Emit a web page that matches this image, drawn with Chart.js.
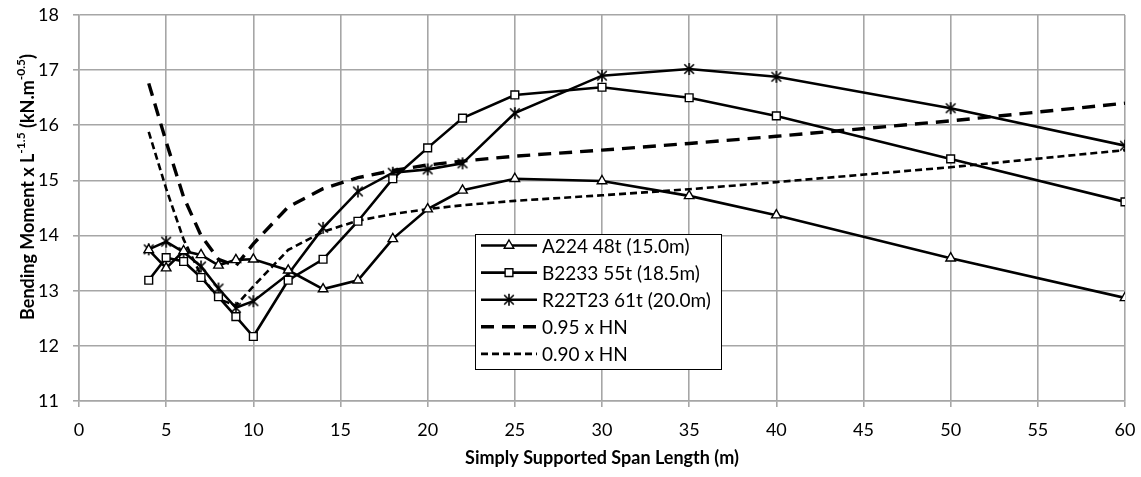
<!DOCTYPE html>
<html>
<head>
<meta charset="utf-8">
<script src="https://cdn.jsdelivr.net/npm/chart.js@4.4.1/dist/chart.umd.min.js"></script>
<style>
  html, body { margin: 0; padding: 0; background: #fff; }
  #wrap { width: 1141px; height: 477px; }
</style>
</head>
<body>
<div id="wrap"><canvas id="bmChart"></canvas></div>
<script>
// span lengths (m)
const spans = [4, 5, 6, 7, 8, 9, 10, 12, 14, 16, 18, 20, 22, 25, 30, 35, 40, 50, 60];

// bending moment x L^-1.5
const a224   = [13.74, 13.41, 13.72, 13.65, 13.46, 13.56, 13.57, 13.37, 13.03, 13.19, 13.94, 14.48, 14.82, 15.03, 14.99, 14.72, 14.37, 13.59, 12.87];
const b2233  = [13.19, 13.60, 13.53, 13.24, 12.89, 12.53, 12.17, 13.19, 13.57, 14.26, 15.03, 15.59, 16.13, 16.55, 16.69, 16.50, 16.17, 15.39, 14.61];
const r22t23 = [13.75, 13.89, 13.70, 13.44, 13.04, 12.69, 12.81, 13.30, 14.14, 14.80, 15.14, 15.20, 15.31, 16.22, 16.90, 17.02, 16.88, 16.31, 15.63];
const hn95   = [16.76, 15.70, 14.70, 14.00, 13.57, 13.45, 13.85, 14.52, 14.85, 15.05, 15.18, 15.28, 15.35, 15.44, 15.55, 15.67, 15.80, 16.08, 16.40];
const hn90   = [15.88, 14.85, 13.93, 13.28, 12.85, 12.73, 13.08, 13.74, 14.07, 14.27, 14.39, 14.48, 14.55, 14.63, 14.73, 14.84, 14.97, 15.24, 15.55];

const seriesNames = ["A224 48t (15.0m)", "B2233 55t (18.5m)", "R22T23 61t (20.0m)", "0.95 x HN", "0.90 x HN"];

const xTitle = "Simply Supported Span Length (m)";
const yTitleParts = [
  { t: "Bending Moment x L", sup: false },
  { t: "-1.5", sup: true },
  { t: " (kN.m", sup: false },
  { t: "-0.5", sup: true },
  { t: ")", sup: false }
];

const FONT = "Lato, 'Open Sans', sans-serif";

// excel style star marker: X plus vertical bar
function makeStar(size) {
  let c = document.createElement("canvas");
  c.width = size; c.height = size;
  let g = c.getContext("2d");
  let m = size / 2, r = size / 2 - 1;
  g.strokeStyle = "#000";
  g.lineWidth = 1.6;
  g.beginPath();
  g.moveTo(m - r * 0.8, m - r * 0.8); g.lineTo(m + r * 0.8, m + r * 0.8);
  g.moveTo(m + r * 0.8, m - r * 0.8); g.lineTo(m - r * 0.8, m + r * 0.8);
  g.moveTo(m, m - r); g.lineTo(m, m + r);
  g.stroke();
  return c;
}
const starMarker = makeStar(14);

function toPoints(ys) {
  let pts = [];
  for (let i = 0; i < spans.length; i++) {
    pts.push({ x: spans[i], y: ys[i] });
  }
  return pts;
}

function lineSet(label, ys, extra) {
  return Object.assign({
    label: label,
    data: toPoints(ys),
    borderColor: "#000",
    backgroundColor: "#fff",
    borderWidth: 2.6,
    pointRadius: 0,
    pointBorderColor: "#000",
    pointBackgroundColor: "#fff",
    pointBorderWidth: 1.4,
    tension: 0
  }, extra);
}

const datasets = [
  lineSet(seriesNames[0], a224,   { pointStyle: "triangle", pointRadius: 5.5 }),
  lineSet(seriesNames[1], b2233,  { pointStyle: "rect", pointRadius: 5.5 }),
  lineSet(seriesNames[2], r22t23, { pointStyle: starMarker, pointRadius: 6 }),
  lineSet(seriesNames[3], hn95,   { borderDash: [13, 8], borderWidth: 3.4, borderCapStyle: "butt" }),
  lineSet(seriesNames[4], hn90,   { borderDash: [7, 4], borderWidth: 2.6, borderCapStyle: "butt" })
];

// legend box drawn inside the plot
const boxLegend = {
  id: "boxLegend",
  afterDraw(chart) {
    const ctx = chart.ctx;
    const ca = chart.chartArea;
    const bx = ca.left + 396, by = ca.top + 219, bw = 246, bh = 135;
    ctx.save();
    ctx.fillStyle = "#fff";
    ctx.fillRect(bx, by, bw, bh);
    ctx.strokeStyle = "#000";
    ctx.lineWidth = 1;
    ctx.strokeRect(bx + 0.5, by + 0.5, bw, bh);
    ctx.font = "19px " + FONT;
    ctx.textBaseline = "middle";
    chart.data.datasets.forEach((ds, i) => {
      const cy = by + 11.5 + i * 27.1;
      const x0 = bx + 6, x1 = bx + 62;
      ctx.strokeStyle = "#000";
      ctx.lineWidth = ds.borderWidth;
      ctx.setLineDash(ds.borderDash || []);
      ctx.lineCap = "butt";
      ctx.beginPath();
      ctx.moveTo(x0, cy);
      ctx.lineTo(x1, cy);
      ctx.stroke();
      ctx.setLineDash([]);
      if (ds.pointRadius > 0) {
        ctx.fillStyle = "#fff";
        ctx.strokeStyle = "#000";
        ctx.lineWidth = ds.pointBorderWidth;
        Chart.helpers.drawPoint(ctx, {
          pointStyle: ds.pointStyle, radius: ds.pointRadius, rotation: 0, borderWidth: ds.pointBorderWidth
        }, (x0 + x1) / 2, cy);
      }
      ctx.fillStyle = "#000";
      ctx.fillText(ds.label, x1 + 5, cy + 1);
    });
    ctx.restore();
  }
};

// rotated y title with superscripts
const yTitle = {
  id: "yTitle",
  afterDraw(chart) {
    const ctx = chart.ctx;
    const mainFont = "bold 18px " + FONT;
    const supFont = "bold 12px " + FONT;
    ctx.save();
    let total = 0;
    yTitleParts.forEach(p => {
      ctx.font = p.sup ? supFont : mainFont;
      total += ctx.measureText(p.t).width;
    });
    ctx.translate(27, 187);
    ctx.rotate(-Math.PI / 2);
    ctx.fillStyle = "#000";
    ctx.textBaseline = "middle";
    let x = -total / 2;
    yTitleParts.forEach(p => {
      ctx.font = p.sup ? supFont : mainFont;
      ctx.fillText(p.t, x, p.sup ? -6 : 1);
      x += ctx.measureText(p.t).width;
    });
    ctx.restore();
  }
};

const gridStyle = { color: "#a6a6a6", lineWidth: 1.6, tickLength: 6, tickColor: "#a6a6a6" };

new Chart(document.getElementById("bmChart"), {
  type: "line",
  data: { datasets: datasets },
  options: {
    responsive: true,
    maintainAspectRatio: false,
    animation: false,
    layout: { padding: { top: 15, right: 16, left: 0, bottom: 0 } },
    plugins: {
      legend: { display: false },
      tooltip: { enabled: false }
    },
    scales: {
      x: {
        type: "linear",
        min: 0, max: 60,
        ticks: { stepSize: 5, color: "#000", font: { family: FONT, size: 18 }, padding: 12, maxRotation: 0 },
        grid: gridStyle,
        border: { color: "#a6a6a6", width: 1.6 },
        title: { display: true, text: xTitle, color: "#000", font: { family: FONT, size: 18, weight: "bold" }, padding: { top: 4, bottom: 8 } },
        afterFit: s => { s.height = 76; s.paddingLeft = 0; s.paddingRight = 0; }
      },
      y: {
        min: 11, max: 18,
        ticks: { stepSize: 1, color: "#000", font: { family: FONT, size: 18 }, padding: 14 },
        grid: gridStyle,
        border: { color: "#a6a6a6", width: 1.6 },
        afterFit: s => { s.width = 79; s.paddingTop = 0; s.paddingBottom = 0; }
      }
    }
  },
  plugins: [boxLegend, yTitle]
});
</script>
</body>
</html>
